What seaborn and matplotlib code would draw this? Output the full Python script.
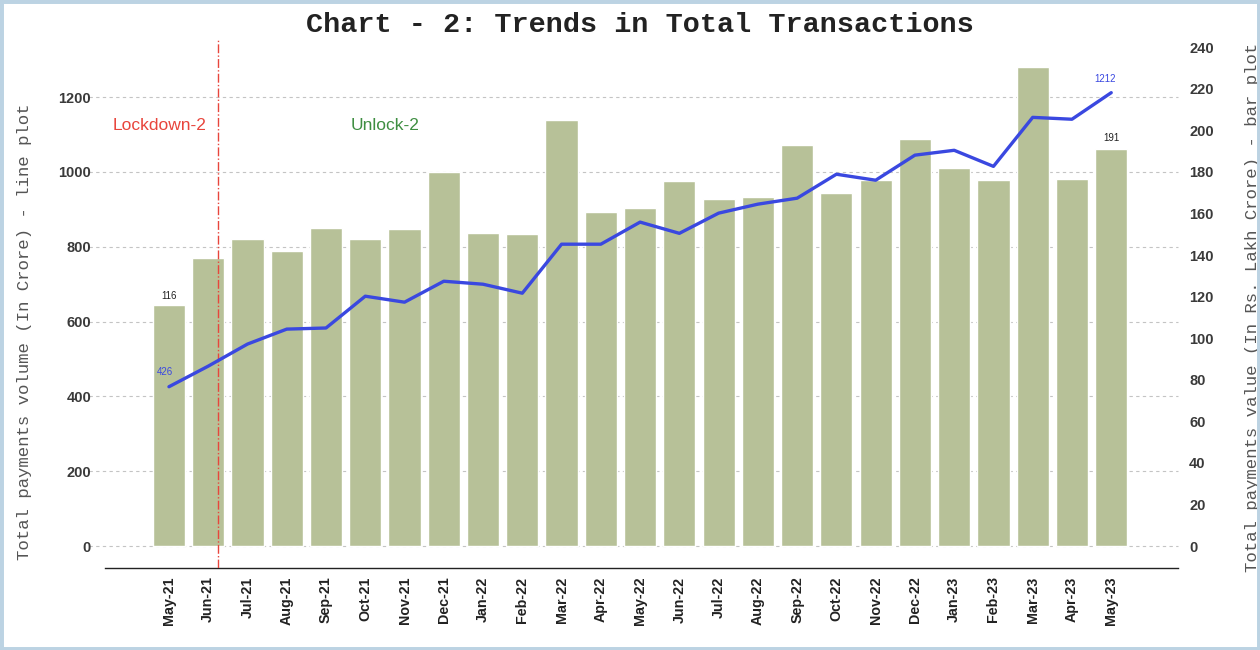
import numpy as np
import pandas as pd
import matplotlib
matplotlib.use("Agg")
import matplotlib.pyplot as plt
import matplotlib.transforms as mtransforms
from matplotlib.patches import Rectangle
import seaborn as sns

# data
months = ["May-21", "Jun-21", "Jul-21", "Aug-21", "Sep-21", "Oct-21", "Nov-21",
          "Dec-21", "Jan-22", "Feb-22", "Mar-22", "Apr-22", "May-22", "Jun-22",
          "Jul-22", "Aug-22", "Sep-22", "Oct-22", "Nov-22", "Dec-22", "Jan-23",
          "Feb-23", "Mar-23", "Apr-23", "May-23"]
value_lakh_crore = [116, 138.5, 147.6, 141.8, 152.9, 147.6, 152.4, 179.8, 150.5,
                    150.0, 204.8, 160.6, 162.5, 175.5, 166.8, 167.8, 192.8, 169.7,
                    176.0, 195.7, 181.7, 176.0, 230.3, 176.4, 191]
volume_crore = [426, 481, 540, 580, 583, 668, 652, 708, 700, 676, 807, 807, 866,
                836, 890, 914, 930, 994, 978, 1045, 1058, 1015, 1146, 1141, 1212]
left_ticks = [0, 200, 400, 600, 800, 1000, 1200]
right_ticks = list(range(0, 241, 20))

df = pd.DataFrame({"month": months, "value": value_lakh_crore,
                   "volume": volume_crore, "pos": np.arange(len(months))})

sns.set_style("white")
plt.rcParams["font.family"] = ["Liberation Sans", "DejaVu Sans"]

fig = plt.figure(figsize=(12.6, 6.5), dpi=100)
ax_bar = fig.add_axes([0.0833, 0.126, 0.8516, 0.812])

# bars -> right axis (value)
sns.barplot(data=df, x="month", y="value", color="#b7c198", saturation=1,
            width=0.82, ax=ax_bar, zorder=2)
ax_bar.set_xlim(-1.63, 25.7)
ax_bar.set_ylim(-10.6, 243.3)
ax_bar.set_yticks(right_ticks)
ax_bar.set_xlabel("")

# line -> left axis (volume)
ax_line = ax_bar.twinx()
sns.lineplot(data=df, x="pos", y="volume", color="#3a48e0", lw=2.4, ax=ax_line)
ax_line.yaxis.tick_left()
ax_line.yaxis.set_label_position("left")
ax_line.set_ylim(-58.8, 1352)
ax_line.set_yticks(left_ticks)
ax_line.set_xlabel("")
# twinx resets the host axis to the left, so move it back
ax_bar.yaxis.tick_right()
ax_bar.yaxis.set_label_position("right")

# grid of the left axis, kept behind the bars
trans = mtransforms.blended_transform_factory(ax_bar.transAxes, ax_line.transData)
ax_bar.hlines(left_ticks, -0.015, 1, transform=trans, colors="#c4c4c4",
              linestyles=(0, (3, 3)), lw=0.8, zorder=0.5, clip_on=False)

# lockdown marker
ax_bar.axvline(1.25, color="#e8453c", ls="-.", lw=1.0, zorder=3)
ax_line.text(-0.23, 1123, "Lockdown-2", color="#e8453c", fontsize=12.5,
             ha="center", va="center")
ax_line.text(5.5, 1123, "Unlock-2", color="#3e8e41", fontsize=12.5,
             ha="center", va="center")

# end labels
ax_bar.text(0, value_lakh_crore[0] + 2, f"{value_lakh_crore[0]}", fontsize=7,
            ha="center", va="bottom", color="#222222")
ax_bar.text(24, value_lakh_crore[-1] + 3, f"{value_lakh_crore[-1]}", fontsize=7,
            ha="center", va="bottom", color="#222222")
ax_line.text(-0.1, volume_crore[0] + 25, f"{volume_crore[0]}", fontsize=7,
             ha="center", va="bottom", color="#3a48e0")
ax_line.text(23.85, volume_crore[-1] + 22, f"{volume_crore[-1]}", fontsize=7,
             ha="center", va="bottom", color="#3a48e0")

# axes styling
for ax in (ax_bar, ax_line):
    for s in ("left", "right", "top"):
        ax.spines[s].set_visible(False)
ax_line.spines["bottom"].set_visible(False)
ax_bar.spines["bottom"].set_color("#222222")
ax_bar.spines["bottom"].set_linewidth(1.0)

ax_bar.tick_params(axis="x", rotation=90, labelsize=10.3, length=3, color="#333333",
                   labelcolor="#222222", pad=3)
for lab in ax_bar.get_xticklabels():
    lab.set_fontweight("bold")
ax_bar.tick_params(axis="y", length=0, labelsize=10.5, labelcolor="#3a3a3a", pad=8)
ax_line.tick_params(axis="y", length=0, labelsize=10.5, labelcolor="#3a3a3a", pad=10)
for lab in ax_bar.get_yticklabels() + ax_line.get_yticklabels():
    lab.set_fontweight("bold")

ax_line.set_ylabel("Total payments volume (In Crore) - line plot",
                   family="Liberation Mono", fontsize=12.5, color="#555555")
ax_line.yaxis.set_label_coords(-0.068, 0.447)
ax_bar.set_ylabel("Total payments value (In Rs. Lakh Crore) - bar plot",
                  family="Liberation Mono", fontsize=12.5, color="#555555", rotation=90)
ax_bar.yaxis.set_label_coords(1.0625, 0.494)

fig.text(0.508, 1 - 25 / 650, "Chart - 2: Trends in Total Transactions",
         family="Liberation Mono", fontweight="bold", fontsize=20.5,
         ha="center", va="center", color="#222222")

fig.patches.append(Rectangle((0, 0), 1, 1, transform=fig.transFigure, fill=False,
                             edgecolor="#bcd3e3", lw=5))

fig.savefig("out.png", dpi=100)
